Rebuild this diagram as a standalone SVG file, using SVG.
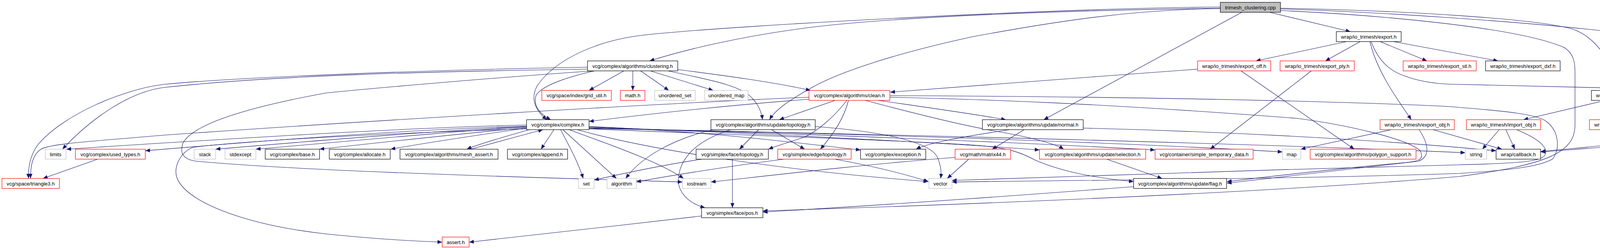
<svg xmlns="http://www.w3.org/2000/svg" width="4984" height="635" viewBox="0 0 4984 635">
<style>
rect{fill:#ffffff;stroke-width:1.2}
.n rect{stroke:#000000}
.r rect{stroke:#ff0000}
.g rect{stroke:#bfbfbf}
.root rect{fill:#bfbfbf;stroke:#000000}
text{font-family:"Liberation Sans",Arial,Helvetica,sans-serif;font-size:13px;fill:#000000;text-anchor:middle}
#edges path{fill:none;stroke:#191970;stroke-width:1.1;marker-end:url(#a)}
</style>
<defs>
<marker id="a" markerUnits="userSpaceOnUse" markerWidth="12" markerHeight="10" refX="12" refY="5" orient="auto">
<path d="M0,0 L12,5 L0,10 Z" fill="#191970"/>
</marker>
</defs>
<rect x="0" y="0" width="4984" height="635" fill="#ffffff" stroke="none"/>
<g id="edges">
<path d="M3124,18 C2700,21 1900,64 1665,88 C1530,100 1420,153 1375,220 C1355,257 1375,287 1400,306.5"/>
<path d="M3124,21 C2700,27 2300,43 2075,70 C1900,92 1750,128 1663,156"/>
<path d="M3124,22 C2900,24 2700,55 2490,94 C2300,135 2150,183 2075,226 C2020,257 1985,281 1970,306.5"/>
<path d="M3179,31.5 L2672,306.5"/>
<path d="M3250,31.5 L3457,81"/>
<path d="M3278,23 C3500,29 3900,55 4120,81"/>
<path d="M3278,21 C3600,27 3950,49 4030,76 C4095,100 4132,177 4152,231.5"/>
<path d="M3278,27 C3500,37 3880,67 4005,122 C4028,137 4032,159 4032,183 L4032,320 C4032,391 3960,422 3735,452 C3300,489 2600,520 1953,540"/>
<path d="M2902,478 C2600,501 2250,526 1953,543"/>
<path d="M1796,553 C1600,575 1350,605 1201,620"/>
<path d="M1348,330 C1000,340 620,361 495,377 C462,389 445,426 452,452 C470,514 620,575 835,599 C950,611 1050,617 1132,620"/>
<path d="M1522,181.5 C1450,198 1385,220 1372,245 C1365,269 1380,291 1410,306.5"/>
<path d="M1597,181.5 L1508,231.5"/>
<path d="M1620,181.5 L1620,231.5"/>
<path d="M1640,181.5 L1712,231.5"/>
<path d="M1665,181.5 L1826,231.5"/>
<path d="M1735,178 C1850,193 1980,210 2075,231.5"/>
<path d="M1710,181.5 C1820,205 1900,220 1925,251 C1945,271 1950,291 1952,306.5"/>
<path d="M1504,177 C1100,183 700,193 420,224 C330,235 230,306 160,382"/>
<path d="M1504,172 C1100,179 600,198 420,216 C320,227 160,293 95,373 C75,403 72,434 73,457"/>
<path d="M1522,181.5 C1300,196 950,226 835,238 C600,281 490,324 468,367 C458,397 475,410 505,413 C800,440 1400,455 1747,466"/>
<path d="M2071,254 C1900,267 1700,287 1508,311"/>
<path d="M2071,249 C1700,264 900,312 420,346 C250,361 130,367 105,382 C82,397 78,428 78,457"/>
<path d="M2138,257 L1995,306.5"/>
<path d="M2168,257 C2130,306 2090,336 2060,351 C2020,364 1990,373 1967,382"/>
<path d="M2172,257 C2160,306 2130,348 2100,382"/>
<path d="M2215,257 C2350,293 2480,324 2550,336 C2640,352 2700,367 2723,382"/>
<path d="M2248,257 C2400,279 2500,293 2575,306.5"/>
<path d="M2278,249 C2500,254 2800,263 3320,303 C3450,320 3600,355 3635,385 C3645,403 3640,413 3600,416 C3400,434 3250,452 3141,465"/>
<path d="M2278,245 C2600,246 3000,251 3320,259 C3500,264 3700,271 3735,275 C3850,284 3940,293 3960,312 C3990,336 3995,379 3975,407 C3940,428 3850,437 3735,444 C3300,459 2700,462 2437,466"/>
<path d="M3066,177 C2800,196 2500,220 2279,236"/>
<path d="M3177,181.5 L3467,382"/>
<path d="M3357,181.5 L3098,382"/>
<path d="M3447,106.5 L3215,156"/>
<path d="M3482,106.5 L3393,156"/>
<path d="M3507,106.5 C3525,183 3575,251 3613,306.5"/>
<path d="M3533,106.5 L3653,156"/>
<path d="M3567,106.5 L3835,156"/>
<path d="M3510,106.5 C3530,159 3560,183 3600,196 C3650,214 3700,216 3735,216 L4155,226 C4400,238 4700,263 4920,306.5"/>
<path d="M3562,332 L3330,382"/>
<path d="M3633,332 C3660,373 3660,403 3630,413 C3450,434 3250,455 3141,469"/>
<path d="M3668,332 L3845,382"/>
<path d="M4110,257 L3900,306.5"/>
<path d="M4158,257 L4161,306.5"/>
<path d="M4192,257 L4338,306.5"/>
<path d="M4227,257 L4518,306.5"/>
<path d="M4240,254 C4400,271 4600,291 4708,306.5"/>
<path d="M4230,257 C4500,269 4750,281 4918,306.5"/>
<path d="M3838,332 L3795,382"/>
<path d="M3855,332 L3878,382"/>
<path d="M3882,332 C3940,355 3965,379 3955,397 C3945,413 3900,418 3735,422 C3300,434 2700,450 2437,462"/>
<path d="M4491,332 C4300,355 4100,373 3944,388"/>
<path d="M4709,332 C4400,355 4100,379 3944,389"/>
<path d="M250,407.5 L110,457"/>
<path d="M1348,320 C1000,328 500,361 170,382"/>
<path d="M1348,323 C1000,333 600,367 372,386"/>
<path d="M1348,324 C1100,336 800,361 552,382"/>
<path d="M1348,325 C1150,337 900,361 655,382"/>
<path d="M1348,327 C1200,340 1000,362 818,382"/>
<path d="M1348,328 C1250,342 1100,364 1000,382"/>
<path d="M1355,332 C1300,348 1230,367 1195,382"/>
<path d="M1205,382 C1260,367 1330,348 1390,332"/>
<path d="M1418,332 L1385,382"/>
<path d="M1435,332 C1460,379 1480,416 1493,457"/>
<path d="M1441,332 L1578,457"/>
<path d="M1457,332 C1550,367 1680,410 1750,457"/>
<path d="M1478,332 C1600,367 1900,428 2376,465"/>
<path d="M1508,324 C1800,336 2000,361 2203,384"/>
<path d="M1508,325 C1900,340 2400,364 2661,384"/>
<path d="M1508,327 C2000,340 2600,364 2957,384"/>
<path d="M1508,328 C2100,340 2800,361 3283,389"/>
<path d="M1508,329 C2200,342 3200,367 3751,391"/>
<path d="M1508,330 C1900,346 2350,361 2500,372 C2590,379 2620,394 2650,410 C2720,440 2800,455 2902,465"/>
<path d="M1942,332 L1893,382"/>
<path d="M1975,332 L2060,382"/>
<path d="M1870,332 C1800,355 1745,391 1737,452 C1732,489 1760,520 1805,532"/>
<path d="M2087,324 C2250,336 2380,361 2400,403 C2410,428 2410,443 2408,457"/>
<path d="M1825,332 C1720,357 1640,403 1602,457"/>
<path d="M1875,407.5 L1875,532"/>
<path d="M1797,407.5 C1700,422 1600,443 1521,461"/>
<path d="M2137,407.5 C2250,428 2330,450 2377,465"/>
<path d="M2007,407.5 C1850,428 1700,452 1629,466"/>
<path d="M2480,407.5 L2425,457"/>
<path d="M2445,403 C2200,422 1950,452 1820,466"/>
<path d="M2622,332 L2540,382"/>
<path d="M2585,332 C2480,348 2380,364 2345,382"/>
<path d="M2773,328 C3100,336 3500,355 3830,386"/>
<path d="M2833,407.5 L2975,457"/>
</g>
<g id="n-root" class="root"><rect x="3124" y="6" width="154" height="25.5"/><text x="3201" y="23.5">trimesh_clustering.cpp</text></g>
<g id="n-export" class="n"><rect x="3421" y="81" width="166" height="25.5"/><text x="3504" y="98.5">wrap/io_trimesh/export.h</text></g>
<g id="n-bounding" class="n"><rect x="4120" y="81" width="271" height="25.5"/><text x="4255.5" y="98.5">vcg/complex/algorithms/update/bounding.h</text></g>
<g id="n-clustering" class="n"><rect x="1504" y="156" width="231" height="25.5"/><text x="1619.5" y="173.5">vcg/complex/algorithms/clustering.h</text></g>
<g id="n-export_off" class="r"><rect x="3066" y="156" width="187" height="25.5"/><text x="3159.5" y="173.5">wrap/io_trimesh/export_off.h</text></g>
<g id="n-export_ply" class="r"><rect x="3277" y="156" width="190" height="25.5"/><text x="3372" y="173.5">wrap/io_trimesh/export_ply.h</text></g>
<g id="n-export_stl" class="r"><rect x="3592" y="156" width="187" height="25.5"/><text x="3685.5" y="173.5">wrap/io_trimesh/export_stl.h</text></g>
<g id="n-export_dxf" class="n"><rect x="3803" y="156" width="191" height="25.5"/><text x="3898.5" y="173.5">wrap/io_trimesh/export_dxf.h</text></g>
<g id="n-grid_util" class="r"><rect x="1387" y="231.5" width="178" height="25.5"/><text x="1476" y="249">vcg/space/index/grid_util.h</text></g>
<g id="n-math" class="r"><rect x="1588" y="231.5" width="63" height="25.5"/><text x="1619.5" y="249">math.h</text></g>
<g id="n-unordered_set" class="g"><rect x="1676" y="231.5" width="104" height="25.5"/><text x="1728" y="249">unordered_set</text></g>
<g id="n-unordered_map" class="g"><rect x="1804" y="231.5" width="111" height="25.5"/><text x="1859.5" y="249">unordered_map</text></g>
<g id="n-clean" class="r"><rect x="2071" y="231.5" width="207" height="25.5"/><text x="2174.5" y="249">vcg/complex/algorithms/clean.h</text></g>
<g id="n-import" class="n"><rect x="4074" y="231.5" width="166" height="25.5"/><text x="4157" y="249">wrap/io_trimesh/import.h</text></g>
<g id="n-complex" class="n"><rect x="1348" y="306.5" width="160" height="25.5"/><text x="1428" y="324">vcg/complex/complex.h</text></g>
<g id="n-utopology" class="n"><rect x="1820" y="306.5" width="267" height="25.5"/><text x="1953.5" y="324">vcg/complex/algorithms/update/topology.h</text></g>
<g id="n-normal" class="n"><rect x="2515" y="306.5" width="258" height="25.5"/><text x="2644" y="324">vcg/complex/algorithms/update/normal.h</text></g>
<g id="n-export_obj" class="r"><rect x="3533" y="306.5" width="190" height="25.5"/><text x="3628" y="324">wrap/io_trimesh/export_obj.h</text></g>
<g id="n-import_obj" class="r"><rect x="3754" y="306.5" width="190" height="25.5"/><text x="3849" y="324">wrap/io_trimesh/import_obj.h</text></g>
<g id="n-import_stl" class="r"><rect x="4069" y="306.5" width="187" height="25.5"/><text x="4162.5" y="324">wrap/io_trimesh/import_stl.h</text></g>
<g id="n-import_off" class="r"><rect x="4279" y="306.5" width="187" height="25.5"/><text x="4372.5" y="324">wrap/io_trimesh/import_off.h</text></g>
<g id="n-import_vmi" class="r"><rect x="4491" y="306.5" width="193" height="25.5"/><text x="4587.5" y="324">wrap/io_trimesh/import_vmi.h</text></g>
<g id="n-import_ply" class="r"><rect x="4709" y="306.5" width="189" height="25.5"/><text x="4803.5" y="324">wrap/io_trimesh/import_ply.h</text></g>
<g id="n-locale" class="g"><rect x="4922" y="306.5" width="57" height="25.5"/><text x="4950.5" y="324">locale</text></g>
<g id="n-limits" class="g"><rect x="116" y="382" width="53" height="25.5"/><text x="142.5" y="399.5">limits</text></g>
<g id="n-used_types" class="r"><rect x="193" y="382" width="179" height="25.5"/><text x="282.5" y="399.5">vcg/complex/used_types.h</text></g>
<g id="n-stack" class="g"><rect x="497" y="382" width="55" height="25.5"/><text x="524.5" y="399.5">stack</text></g>
<g id="n-stdexcept" class="g"><rect x="576" y="382" width="79" height="25.5"/><text x="615.5" y="399.5">stdexcept</text></g>
<g id="n-base" class="n"><rect x="679" y="382" width="139" height="25.5"/><text x="748.5" y="399.5">vcg/complex/base.h</text></g>
<g id="n-allocate" class="n"><rect x="843" y="382" width="156" height="25.5"/><text x="921" y="399.5">vcg/complex/allocate.h</text></g>
<g id="n-mesh_assert" class="n"><rect x="1024" y="382" width="251" height="25.5"/><text x="1149.5" y="399.5">vcg/complex/algorithms/mesh_assert.h</text></g>
<g id="n-append" class="n"><rect x="1299" y="382" width="154" height="25.5"/><text x="1376" y="399.5">vcg/complex/append.h</text></g>
<g id="n-ftopology" class="n"><rect x="1782" y="382" width="185" height="25.5"/><text x="1874.5" y="399.5">vcg/simplex/face/topology.h</text></g>
<g id="n-etopology" class="r"><rect x="1991" y="382" width="188" height="25.5"/><text x="2085" y="399.5">vcg/simplex/edge/topology.h</text></g>
<g id="n-exception" class="n"><rect x="2203" y="382" width="167" height="25.5"/><text x="2286.5" y="399.5">vcg/complex/exception.h</text></g>
<g id="n-matrix44" class="r"><rect x="2445" y="382" width="142" height="25.5"/><text x="2516" y="399.5">vcg/math/matrix44.h</text></g>
<g id="n-selection" class="r"><rect x="2661" y="382" width="272" height="25.5"/><text x="2797" y="399.5">vcg/complex/algorithms/update/selection.h</text></g>
<g id="n-simple_temp" class="r"><rect x="2957" y="382" width="251" height="25.5"/><text x="3082.5" y="399.5">vcg/container/simple_temporary_data.h</text></g>
<g id="n-map" class="g"><rect x="3283" y="382" width="47" height="25.5"/><text x="3306.5" y="399.5">map</text></g>
<g id="n-polygon_support" class="r"><rect x="3354" y="382" width="271" height="25.5"/><text x="3489.5" y="399.5">vcg/complex/algorithms/polygon_support.h</text></g>
<g id="n-string" class="g"><rect x="3751" y="382" width="55" height="25.5"/><text x="3778.5" y="399.5">string</text></g>
<g id="n-callback" class="n"><rect x="3830" y="382" width="114" height="25.5"/><text x="3887" y="399.5">wrap/callback.h</text></g>
<g id="n-triangle3" class="r"><rect x="5" y="457" width="147" height="25.5"/><text x="78.5" y="474.5">vcg/space/triangle3.h</text></g>
<g id="n-set" class="g"><rect x="1481" y="457" width="40" height="25.5"/><text x="1501" y="474.5">set</text></g>
<g id="n-algorithm" class="g"><rect x="1554" y="457" width="75" height="25.5"/><text x="1591.5" y="474.5">algorithm</text></g>
<g id="n-iostream" class="g"><rect x="1747" y="457" width="73" height="25.5"/><text x="1783.5" y="474.5">iostream</text></g>
<g id="n-vector" class="g"><rect x="2378" y="457" width="59" height="25.5"/><text x="2407.5" y="474.5">vector</text></g>
<g id="n-flag" class="n"><rect x="2902" y="457" width="238" height="25.5"/><text x="3021" y="474.5">vcg/complex/algorithms/update/flag.h</text></g>
<g id="n-pos" class="n"><rect x="1796" y="532" width="157" height="25.5"/><text x="1874.5" y="549.5">vcg/simplex/face/pos.h</text></g>
<g id="n-assert" class="r"><rect x="1132" y="607" width="69" height="25.5"/><text x="1166.5" y="624.5">assert.h</text></g>
</svg>
